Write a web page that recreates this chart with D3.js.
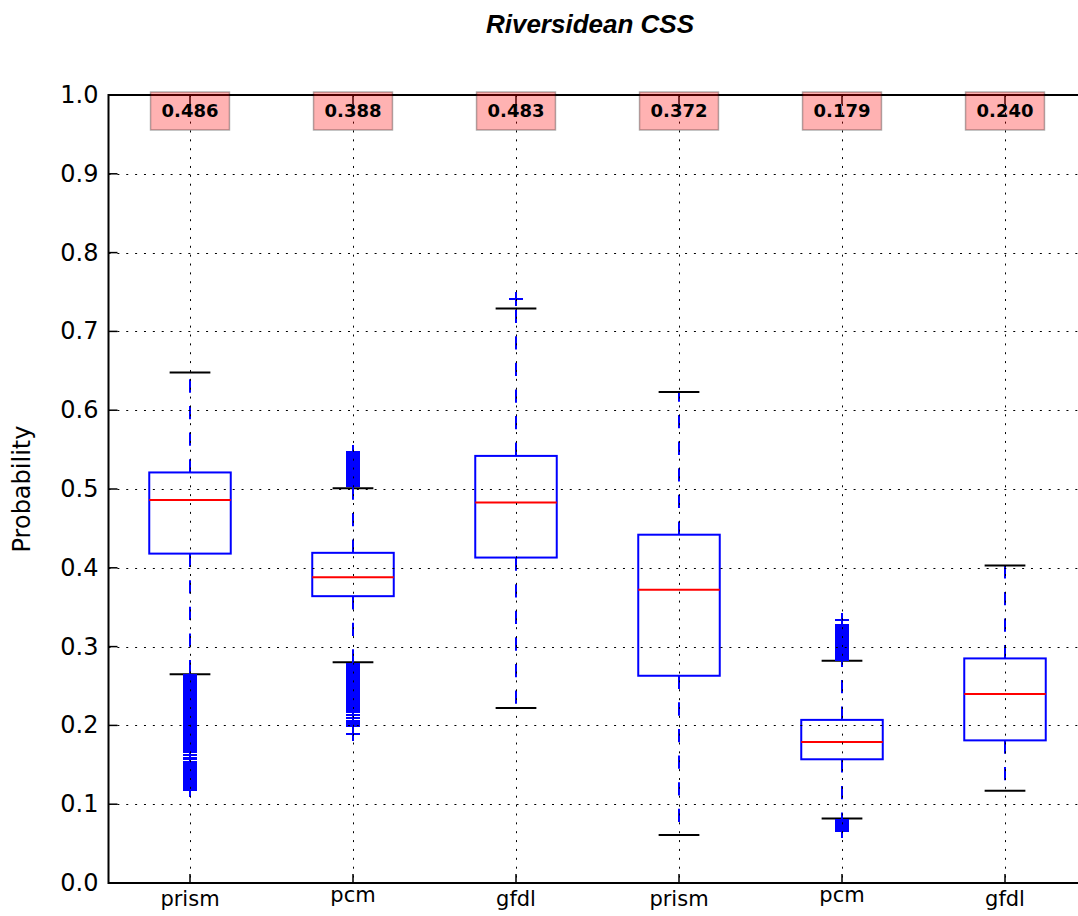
<!DOCTYPE html>
<html>
<head>
<meta charset="utf-8">
<script src="https://cdn.jsdelivr.net/npm/d3@7"></script>
<style>
  html, body { margin: 0; padding: 0; background: #fff; }
  svg { display: block; }
</style>
</head>
<body>
<svg id="chart" width="1078" height="916"></svg>
<script>
// Box statistics per run (probability)
const categories   = ["prism", "pcm", "gfdl", "prism", "pcm", "gfdl"];
const whiskerLow   = [0.265, 0.280, 0.222, 0.061, 0.082, 0.117];
const quartile1    = [0.418, 0.364, 0.413, 0.263, 0.157, 0.181];
const medians      = [0.486, 0.388, 0.483, 0.372, 0.179, 0.240];
const quartile3    = [0.521, 0.419, 0.542, 0.442, 0.207, 0.285];
const whiskerHigh  = [0.648, 0.501, 0.729, 0.623, 0.282, 0.403];

// Flier points beyond the whiskers
const fliersPrism1 = [0.264, 0.262, 0.260, 0.258, 0.256, 0.254, 0.252, 0.250, 0.248, 0.246,
  0.244, 0.242, 0.240, 0.238, 0.236, 0.234, 0.232, 0.230, 0.228, 0.226, 0.224, 0.222,
  0.220, 0.218, 0.216, 0.214, 0.212, 0.210, 0.208, 0.206, 0.204, 0.202, 0.200, 0.198,
  0.196, 0.194, 0.192, 0.190, 0.188, 0.186, 0.184, 0.182, 0.180, 0.178, 0.176, 0.174,
  0.172, 0.170, 0.167, 0.162, 0.158, 0.154, 0.152, 0.150, 0.148, 0.146, 0.144, 0.142,
  0.140, 0.138, 0.136, 0.134, 0.132, 0.130, 0.128, 0.126, 0.124, 0.122, 0.120, 0.118];
const fliersPcm1 = [0.547, 0.544, 0.542, 0.540, 0.538, 0.536, 0.534, 0.532, 0.530, 0.528,
  0.526, 0.524, 0.522, 0.520, 0.518, 0.516, 0.514, 0.512, 0.510, 0.508, 0.506, 0.504,
  0.278, 0.276, 0.274, 0.272, 0.270, 0.268, 0.266, 0.264, 0.262, 0.260, 0.258, 0.256,
  0.254, 0.252, 0.250, 0.248, 0.246, 0.244, 0.242, 0.240, 0.238, 0.236, 0.234, 0.232,
  0.230, 0.228, 0.226, 0.224, 0.222, 0.220, 0.217, 0.213, 0.209, 0.205, 0.202, 0.200, 0.189];
const fliersGfdl1 = [0.741];
const fliersPrism2 = [];
const fliersPcm2 = [0.334, 0.327, 0.325, 0.323, 0.321, 0.319, 0.317, 0.315, 0.313, 0.311,
  0.309, 0.307, 0.305, 0.303, 0.301, 0.299, 0.297, 0.295, 0.293, 0.291, 0.289, 0.287,
  0.285, 0.283, 0.080, 0.078, 0.076, 0.074, 0.072, 0.070, 0.068, 0.066];
const fliersGfdl2 = [];
const fliers = [fliersPrism1, fliersPcm1, fliersGfdl1, fliersPrism2, fliersPcm2, fliersGfdl2];

const yTickValues = [0.0, 0.1, 0.2, 0.3, 0.4, 0.5, 0.6, 0.7, 0.8, 0.9, 1.0];
const positions = categories.map((_, i) => i + 1);

const svg = d3.select("#chart");
const plot = { left: 108.5, top: 95, bottom: 883, step: 163 };
const plotRight = plot.left + plot.step * categories.length;

const x = d3.scaleLinear().domain([0.5, categories.length + 0.5]).range([plot.left, plotRight]);
const y = d3.scaleLinear().domain([0, 1]).range([plot.bottom, plot.top]);

const boxW = plot.step * 0.5;
const capW = plot.step * 0.25;
const blue = "#0000ff";

svg.append("rect").attr("width", 1078).attr("height", 916).attr("fill", "#fff");

const stats = positions.map((p, i) => ({
  p, lo: whiskerLow[i], q1: quartile1[i], med: medians[i], q3: quartile3[i], hi: whiskerHigh[i], fl: fliers[i]
}));

const boxes = svg.append("g").attr("class", "boxes");
const g = boxes.selectAll("g.box").data(stats).join("g").attr("class", "box");

// whiskers: dashed, drawn outward from the box edges
g.append("line")
  .attr("x1", d => x(d.p)).attr("x2", d => x(d.p))
  .attr("y1", d => y(d.q3)).attr("y2", d => y(d.hi))
  .attr("stroke", blue).attr("stroke-width", 2).attr("stroke-dasharray", "13.3,13.3");
g.append("line")
  .attr("x1", d => x(d.p)).attr("x2", d => x(d.p))
  .attr("y1", d => y(d.q1)).attr("y2", d => y(d.lo))
  .attr("stroke", blue).attr("stroke-width", 2).attr("stroke-dasharray", "13.3,13.3");

// caps
["lo", "hi"].forEach(k => {
  g.append("line")
    .attr("x1", d => x(d.p) - capW / 2).attr("x2", d => x(d.p) + capW / 2)
    .attr("y1", d => y(d[k])).attr("y2", d => y(d[k]))
    .attr("stroke", "#000").attr("stroke-width", 2);
});

// boxes
g.append("rect")
  .attr("x", d => x(d.p) - boxW / 2).attr("width", boxW)
  .attr("y", d => y(d.q3)).attr("height", d => y(d.q1) - y(d.q3))
  .attr("fill", "none").attr("stroke", blue).attr("stroke-width", 2);

// medians
g.append("line")
  .attr("x1", d => x(d.p) - boxW / 2).attr("x2", d => x(d.p) + boxW / 2)
  .attr("y1", d => y(d.med)).attr("y2", d => y(d.med))
  .attr("stroke", "#ff0000").attr("stroke-width", 2);

// fliers as '+' markers
const ms = 7;
g.each(function(d) {
  d3.select(this).selectAll("path.flier").data(d.fl).join("path").attr("class", "flier")
    .attr("d", v => `M${x(d.p) - ms},${y(v)}H${x(d.p) + ms}M${x(d.p)},${y(v) - ms}V${y(v) + ms}`)
    .attr("stroke", blue).attr("stroke-width", 2.2).attr("fill", "none")
    .attr("shape-rendering", "crispEdges");
});

// dotted grid (drawn over the boxes)
const grid = svg.append("g").attr("class", "grid")
  .attr("stroke", "#000").attr("stroke-width", 1).attr("stroke-dasharray", "2,6.87");
grid.selectAll("line.h").data(yTickValues).join("line").attr("class", "h")
  .attr("x1", plot.left).attr("x2", plotRight)
  .attr("y1", d => Math.round(y(d)) + 0.5).attr("y2", d => Math.round(y(d)) + 0.5);
grid.selectAll("line.v").data(positions).join("line").attr("class", "v")
  .attr("x1", d => Math.round(x(d)) + 0.5).attr("x2", d => Math.round(x(d)) + 0.5)
  .attr("y1", plot.top).attr("y2", plot.bottom);

// ticks pointing inward
const tickLen = 9;
const ticks = svg.append("g").attr("stroke", "#000").attr("stroke-width", 1.5);
ticks.selectAll("line.yt").data(yTickValues).join("line")
  .attr("x1", plot.left).attr("x2", plot.left + tickLen)
  .attr("y1", d => y(d)).attr("y2", d => y(d));
ticks.selectAll("line.xb").data(positions).join("line")
  .attr("x1", d => x(d)).attr("x2", d => x(d))
  .attr("y1", plot.bottom).attr("y2", plot.bottom - tickLen);
ticks.selectAll("line.xt").data(positions).join("line")
  .attr("x1", d => x(d)).attr("x2", d => x(d))
  .attr("y1", plot.top).attr("y2", plot.top + tickLen);

// spines
const spines = svg.append("g").attr("stroke", "#000").attr("stroke-width", 2).attr("fill", "none");
spines.append("rect")
  .attr("x", plot.left).attr("y", plot.top)
  .attr("width", plotRight - plot.left).attr("height", plot.bottom - plot.top);

// y tick labels
svg.append("g").selectAll("text").data(yTickValues).join("text")
  .attr("x", plot.left - 10).attr("y", d => y(d))
  .attr("text-anchor", "end").attr("dominant-baseline", "central")
  .attr("font-family", "DejaVu Sans").attr("font-size", 24).attr("fill", "#000")
  .text(d => d3.format(".1f")(d));

// x tick labels, ink top aligned just below the axis
const measure = document.createElement("canvas").getContext("2d");
const xFont = 21;
measure.font = `${xFont}px "DejaVu Sans"`;
svg.append("g").selectAll("text").data(categories).join("text")
  .attr("x", (d, i) => x(positions[i]))
  .attr("y", d => plot.bottom + 7 + measure.measureText(d).actualBoundingBoxAscent)
  .attr("text-anchor", "middle")
  .attr("font-family", "DejaVu Sans").attr("font-size", xFont).attr("fill", "#000")
  .text(d => d);

// axis label
svg.append("text")
  .attr("transform", "translate(22,489) rotate(-90)")
  .attr("text-anchor", "middle").attr("dominant-baseline", "central")
  .attr("font-family", "DejaVu Sans").attr("font-size", 24).attr("fill", "#000")
  .text("Probability");

// title
svg.append("text")
  .attr("x", 590).attr("y", 33)
  .attr("text-anchor", "middle")
  .attr("font-family", "Liberation Sans, Arial, sans-serif").attr("font-size", 26)
  .attr("font-weight", "bold").attr("font-style", "italic").attr("fill", "#000")
  .text("Riversidean CSS");

// median annotations at the top
const ann = svg.append("g").selectAll("g").data(stats).join("g")
  .attr("transform", d => `translate(${x(d.p)},111)`);
ann.append("rect").attr("class", "bg");
ann.append("text")
  .attr("text-anchor", "middle").attr("y", 6)
  .attr("font-family", "DejaVu Sans").attr("font-weight", "bold").attr("font-size", 18)
  .attr("fill", "#000")
  .text(d => d3.format(".3f")(d.med));
ann.each(function() {
  const t = d3.select(this).select("text").node().getBBox();
  d3.select(this).select("rect.bg")
    .attr("x", -t.width / 2 - 11).attr("width", t.width + 22)
    .attr("y", -19).attr("height", 38)
    .attr("fill", "rgba(255,0,0,0.3)").attr("stroke", "rgba(0,0,0,0.3)").attr("stroke-width", 1.5);
});
</script>
</body>
</html>
